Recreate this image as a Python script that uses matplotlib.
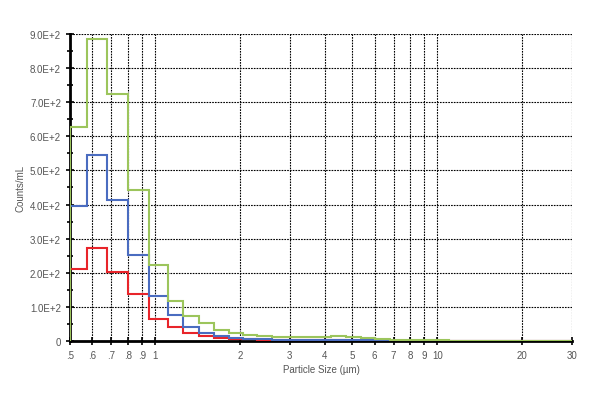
import matplotlib
matplotlib.use("Agg")
from matplotlib import pyplot as plt
from matplotlib.ticker import FixedLocator, NullLocator, FixedFormatter

plt.rcParams["font.family"] = ["Liberation Sans", "DejaVu Sans"]

# bin edges (um) and counts/mL per bin
edges = [0.5, 0.575, 0.675, 0.8, 0.955, 1.115, 1.26, 1.435, 1.62, 1.83, 2.05,
         2.3, 2.6, 2.95, 3.3, 3.75, 4.2, 4.75, 5.35, 6.0, 6.8, 7.7, 8.7, 9.8,
         11.0, 30.0]
green_counts = [627, 884, 724, 443, 224, 117, 74, 53, 33, 22, 17, 15, 13, 12,
                11, 12, 14, 13, 8, 6, 4, 3, 2, 3, 1]
blue_counts = [396, 545, 413, 252, 131, 77, 40, 24, 15, 9, 6, 5, 4, 4, 3, 3,
               3, 2, 2, 1, 1, 1, 0, 0, 0]
red_counts = [211, 273, 201, 139, 64, 42, 22, 15, 10, 7, 5, 4, 3, 3, 2, 2, 2,
              1, 1, 1, 0, 0, 0, 0, 0]

x_ticks = [0.5, 0.6, 0.7, 0.8, 0.9, 1, 2, 3, 4, 5, 6, 7, 8, 9, 10, 20, 30]
x_labels = [".5", ".6", ".7", ".8", ".9", "1", "2", "3", "4", "5", "6", "7",
            "8", "9", "10", "20", "30"]
y_ticks = [0, 100, 200, 300, 400, 500, 600, 700, 800, 900]
y_labels = ["0", "1.0E+2", "2.0E+2", "3.0E+2", "4.0E+2", "5.0E+2", "6.0E+2",
            "7.0E+2", "8.0E+2", "9.0E+2"]

fig = plt.figure(figsize=(6, 4.02), dpi=100)
ax = fig.add_axes([0.1167, 0.1493, 0.8366, 0.7636])

ax.stairs(red_counts, edges, baseline=0, color="#e8242a", lw=1.5, zorder=3)
ax.stairs(blue_counts, edges, baseline=0, color="#4a6cc0", lw=1.5, zorder=4)
ax.stairs(green_counts, edges, baseline=0, color="#9cc55c", lw=1.5, zorder=5)

ax.set_xscale("log")
ax.set_xlim(0.5, 30)
ax.set_ylim(0, 900)

ax.xaxis.set_major_locator(FixedLocator(x_ticks))
ax.xaxis.set_major_formatter(FixedFormatter(x_labels))
ax.xaxis.set_minor_locator(NullLocator())
ax.yaxis.set_major_locator(FixedLocator(y_ticks))
ax.yaxis.set_major_formatter(FixedFormatter(y_labels))
ax.yaxis.set_minor_locator(FixedLocator([50, 150, 250, 350, 450, 550, 650, 750, 850]))

ax.grid(True, which="major", color="black", linestyle=(0, (1.5, 1)), lw=0.8)
ax.set_axisbelow(True)

for side in ["top", "right"]:
    ax.spines[side].set_visible(False)
ax.spines["left"].set_linewidth(2)
ax.spines["bottom"].set_linewidth(2)

ax.tick_params(axis="both", which="major", labelsize=7, labelcolor="#555555",
               direction="inout", length=6, width=1.2)
ax.tick_params(axis="y", which="minor", direction="inout", length=4, width=1.2)

ax.set_xlabel("Particle Size (\u00b5m)", fontsize=7, color="#555555", labelpad=3)
ax.set_ylabel("Counts/mL", fontsize=7, color="#555555", labelpad=3)

fig.savefig("out.png", dpi=100)
